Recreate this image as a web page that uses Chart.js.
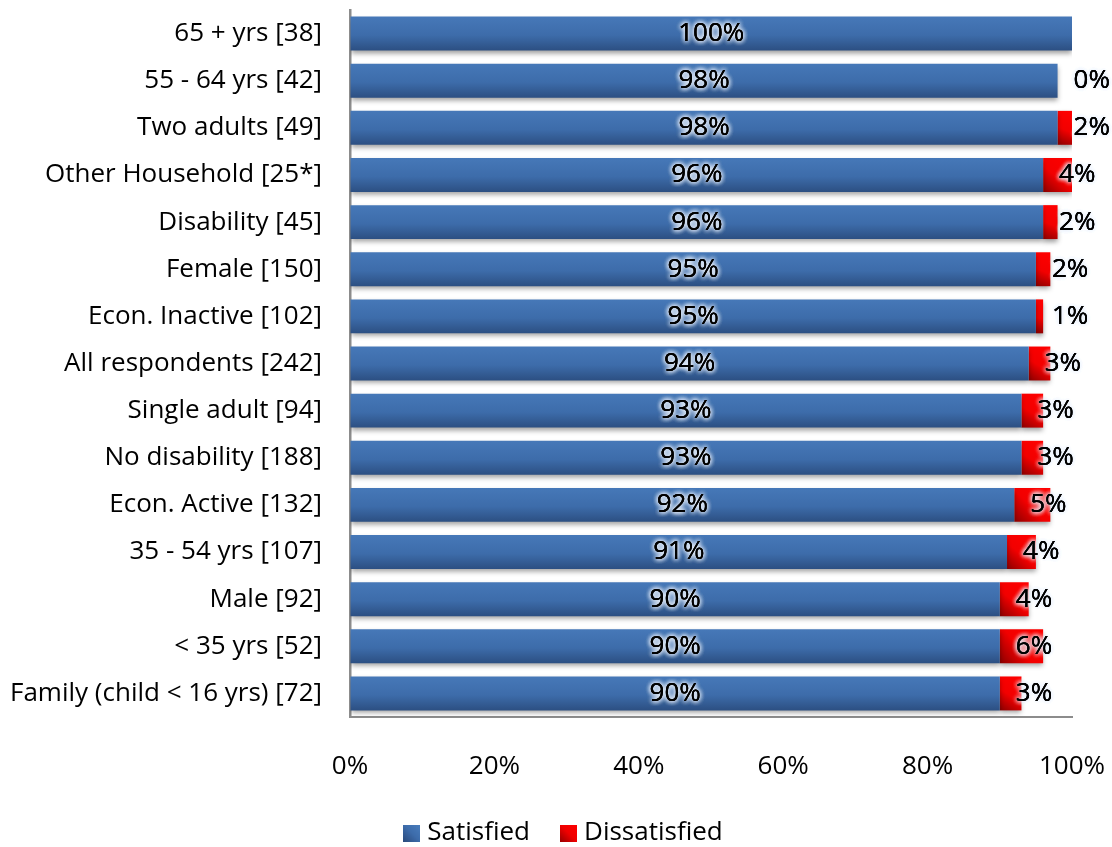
<!DOCTYPE html>
<html>
<head>
<meta charset="utf-8">
<title>Satisfaction by respondent group</title>
<script src="https://cdn.jsdelivr.net/npm/chart.js@4.4.1/dist/chart.umd.min.js"></script>
<style>
  html, body { margin: 0; padding: 0; background: #fff; }
  canvas { display: block; }
</style>
</head>
<body>
<canvas id="chart" width="1112" height="847"></canvas>
<script>
const groups = [
  '65 + yrs [38]',
  '55 - 64 yrs [42]',
  'Two adults [49]',
  'Other Household [25*]',
  'Disability [45]',
  'Female [150]',
  'Econ. Inactive [102]',
  'All respondents [242]',
  'Single adult [94]',
  'No disability [188]',
  'Econ. Active [132]',
  '35 - 54 yrs [107]',
  'Male [92]',
  '< 35 yrs [52]',
  'Family (child < 16 yrs) [72]'
];
const satisfied = [100, 98, 98, 96, 96, 95, 95, 94, 93, 93, 92, 91, 90, 90, 90];
const dissatisfied = [null, 0, 2, 4, 2, 2, 1, 3, 3, 3, 5, 4, 4, 6, 3];
const xTickLabels = ['0%', '20%', '40%', '60%', '80%', '100%'];

const FONT = '"Open Sans", "DejaVu Sans", sans-serif';
const FONT_SIZE = 26;
const BAR_FRACTION = 0.72;

function halfBar(chart) {
  return chart.scales.y.height / groups.length * BAR_FRACTION / 2;
}

// blue bars: lighter on top, darker along the bottom edge
function satisfiedFill(context) {
  const chart = context.chart;
  if (!chart.chartArea || context.dataIndex === undefined) return '#3d6cab';
  const yc = chart.scales.y.getPixelForValue(context.dataIndex);
  const h = halfBar(chart);
  const g = chart.ctx.createLinearGradient(0, yc - h, 0, yc + h);
  g.addColorStop(0, '#4678b8');
  g.addColorStop(0.55, '#3d6caa');
  g.addColorStop(1, '#2c4f82');
  return g;
}

// red segments: dark in the lower left corner, bright red elsewhere
function dissatisfiedFill(context) {
  const chart = context.chart;
  const i = context.dataIndex;
  if (!chart.chartArea || i === undefined) return '#e00000';
  const xs = chart.scales.x;
  const yc = chart.scales.y.getPixelForValue(i);
  const h = halfBar(chart);
  const x0 = xs.getPixelForValue(satisfied[i]);
  const x1 = xs.getPixelForValue(satisfied[i] + (dissatisfied[i] || 0));
  const g = chart.ctx.createLinearGradient(x0, yc + h, Math.max(x1, x0 + 1), yc - h);
  g.addColorStop(0, '#8c0000');
  g.addColorStop(0.45, '#f20000');
  g.addColorStop(1, '#ff0000');
  return g;
}

function swatch(colors) {
  const cv = document.createElement('canvas');
  cv.width = cv.height = 17;
  const c = cv.getContext('2d');
  const g = c.createLinearGradient(0, 17, 17, 0);
  colors.forEach((col, k) => g.addColorStop(k / (colors.length - 1), col));
  c.fillStyle = g;
  c.fillRect(0, 0, 17, 17);
  return cv;
}
const legendBoxes = [
  swatch(['#2a4b7c', '#3d6cab', '#4a7ebd']),
  swatch(['#9a0000', '#f00000', '#ff0000'])
];

function glowText(c, text, x, y) {
  c.save();
  c.shadowColor = 'rgba(235,242,252,1)';
  c.shadowBlur = 5;
  c.fillStyle = '#000';
  for (let k = 0; k < 4; k++) c.fillText(text, x, y);
  c.restore();
  c.fillStyle = '#000';
  c.fillText(text, x, y);
}

// soft drop shadow under the bars, then the percentage labels
const barDecor = {
  id: 'barDecor',
  beforeLayout(chart) {
    const lg = chart.legend;
    if (lg && !lg._fixedHeight) {
      const fit = lg.fit.bind(lg);
      lg.fit = function () { fit(); this.height = 63; };
      lg._fixedHeight = true;
    }
  },
  afterLayout(chart) {
    // legend sits centred under the whole picture, not the narrower layout box
    if (chart.legend) {
      chart.legend.left += 30;
      chart.legend.right += 30;
    }
  },
  beforeDatasetsDraw(chart) {
    const c = chart.ctx;
    c.save();
    c.shadowColor = 'rgba(0,0,0,0.38)';
    c.shadowBlur = 5;
    c.shadowOffsetY = 3;
  },
  afterDatasetsDraw(chart) {
    const c = chart.ctx;
    c.restore();
    c.save();
    c.font = `${FONT_SIZE}px ${FONT}`;
    c.textBaseline = 'middle';
    chart.getDatasetMeta(0).data.forEach((bar, i) => {
      c.textAlign = 'center';
      glowText(c, satisfied[i] + '%', (bar.base + bar.x) / 2, bar.y);
    });
    chart.getDatasetMeta(1).data.forEach((bar, i) => {
      if (dissatisfied[i] === null) return;
      c.textAlign = 'left';
      glowText(c, dissatisfied[i] + '%', bar.base + 16, bar.y);
    });
    c.restore();
  }
};

new Chart(document.getElementById('chart'), {
  type: 'bar',
  data: {
    labels: groups,
    datasets: [
      {
        label: 'Satisfied',
        data: satisfied,
        backgroundColor: satisfiedFill,
        borderWidth: 0
      },
      {
        label: 'Dissatisfied',
        data: dissatisfied,
        backgroundColor: dissatisfiedFill,
        borderWidth: 0
      }
    ]
  },
  options: {
    indexAxis: 'y',
    responsive: false,
    animation: false,
    categoryPercentage: 1,
    barPercentage: BAR_FRACTION,
    layout: { padding: { top: 10, right: 40, left: 0, bottom: 0 } },
    scales: {
      x: {
        stacked: true,
        min: 0,
        max: 100,
        afterFit: (s) => { s.height = 67; s.paddingLeft = 0; s.paddingRight = 0; },
        grid: { drawOnChartArea: false, drawTicks: false },
        border: { display: true, color: '#8c8c8c', width: 2 },
        ticks: {
          stepSize: 20,
          padding: 34,
          color: '#000',
          font: { family: FONT, size: FONT_SIZE },
          callback: (v, i) => xTickLabels[i]
        }
      },
      y: {
        stacked: true,
        afterFit: (s) => { s.width = 350; s.paddingTop = 0; s.paddingBottom = 0; },
        grid: { drawOnChartArea: false, drawTicks: false },
        border: { display: true, color: '#8c8c8c', width: 2.5 },
        ticks: {
          padding: 28,
          color: '#000',
          autoSkip: false,
          font: { family: FONT, size: FONT_SIZE }
        }
      }
    },
    plugins: {
      tooltip: { enabled: false },
      legend: {
        position: 'bottom',
        labels: {
          usePointStyle: true,
          pointStyleWidth: 5,
          boxWidth: 17,
          boxHeight: 17,
          padding: 36,
          color: '#000',
          font: { family: FONT, size: FONT_SIZE },
          generateLabels: (chart) => chart.data.datasets.map((ds, i) => ({
            text: ds.label,
            pointStyle: legendBoxes[i],
            fillStyle: 'transparent',
            strokeStyle: 'transparent',
            lineWidth: 0,
            hidden: false,
            datasetIndex: i
          }))
        }
      }
    }
  },
  plugins: [barDecor]
});
</script>
</body>
</html>
